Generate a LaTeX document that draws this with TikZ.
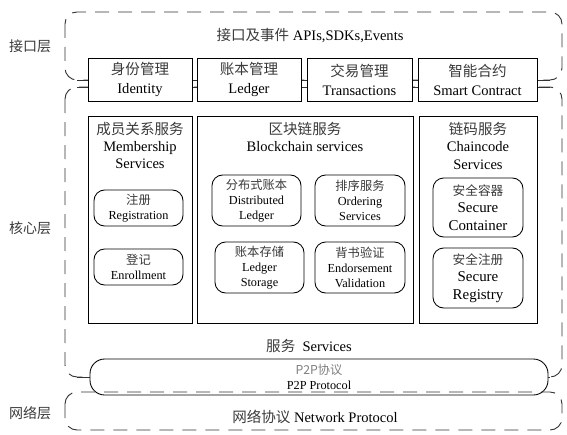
\documentclass[tikz,border=0pt]{standalone}
\usepackage{fontspec}
\setmainfont{Liberation Serif}
\newfontfamily\cjk[Color=3A3A3A]{Noto Sans CJK SC}
\newcommand\zhtext[1]{{\cjk #1}}
\usetikzlibrary{positioning}

\begin{document}
\begin{tikzpicture}[
  x=0.75pt, y=-0.75pt,
  layerbox/.style={draw=black!80, line width=0.7pt, dash pattern=on 10.5pt off 6.75pt, rounded corners=9pt},
  frameline/.style={draw=black!80, line width=0.7pt},
  box/.style={draw, line width=0.65pt, fill=white, inner sep=0pt, align=center},
  rbox/.style={box, rounded corners=8pt},
  big/.style={font=\fontsize{10.9}{14.25}\selectfont},
  title/.style={align=center, inner sep=0pt, font=\fontsize{10.9}{13.1}\selectfont},
  small/.style={font=\fontsize{9.2}{11.25}\selectfont},
  mid/.style={font=\fontsize{11.2}{13}\selectfont},
  lab/.style={font=\cjk\fontsize{10.5}{12}\selectfont}
]
\useasboundingbox (0,0) rectangle (567,435);

% layers
\draw[layerbox] (65,12) rectangle (562,80);
\draw[layerbox] (65,87) rectangle (562,377);
\draw[frameline] (77,80) -- (550,80);
\draw[frameline] (77,87) -- (550,87);
\draw[frameline] (77,377) -- (550,377);

\node[lab] (ifl) at (30,46) {接口层};
\node[lab] (cl) at (30,228) {核心层};
\node[lab] (nl) at (30,413) {网络层};

\node[title] (api) at (310,36) {\zhtext{接口及事件} APIs,SDKs,Events};

% interface boxes
\node[box, big, minimum width=78pt, minimum height=32.25pt] (ident) at (140,79.5) {\zhtext{身份管理}\\Identity};
\node[box, big, minimum width=78pt, minimum height=32.25pt] (ledger) at (249,79.5) {\zhtext{账本管理}\\Ledger};
\node[box, big, minimum width=78.75pt, minimum height=32.25pt] (trans) at (359.5,79.5) {\zhtext{交易管理}\\Transactions};
\node[box, big, minimum width=89.25pt, minimum height=32.25pt] (smart) at (477.5,79.5) {\zhtext{智能合约}\\Smart Contract};

% core services
\node[box, minimum width=78pt, minimum height=155.25pt] (member) at (140,219.5) {};
\node[box, minimum width=162pt, minimum height=155.25pt] (chain) at (305,219.5) {};
\node[box, minimum width=88.5pt, minimum height=155.25pt] (code) at (478,219.5) {};

\node[title, below=4.5pt of member.north] (membert) {\zhtext{成员关系服务}\\Membership\\Services};
\node[title, below=4.5pt of chain.north] (chaint) {\zhtext{区块链服务}\\Blockchain services};
\node[title, below=4.5pt of code.north] (codet) {\zhtext{链码服务}\\Chaincode\\Services};

\node[rbox, small, minimum width=66.75pt, minimum height=27pt] (reg) at (138.5,208) {\zhtext{注册}\\Registration};
\node[rbox, small, minimum width=66.75pt, minimum height=27pt] (enr) at (138.5,267) {\zhtext{登记}\\Enrollment};

\node[rbox, small, minimum width=66.75pt, minimum height=38.25pt] (dist) at (256.5,200.5) {\zhtext{分布式账本}\\Distributed\\Ledger};
\node[rbox, small, minimum width=67.5pt, minimum height=38.25pt] (order) at (360,200.5) {\zhtext{排序服务}\\Ordering\\Services};
\node[rbox, small, minimum width=66.75pt, minimum height=38.25pt] (store) at (259.5,267.5) {\zhtext{账本存储}\\Ledger\\Storage};
\node[rbox, small, minimum width=67.5pt, minimum height=38.25pt] (endo) at (360,267.5) {\zhtext{背书验证}\\Endorsement\\Validation};

\node[rbox, mid, minimum width=67.5pt, minimum height=44.25pt] (cont) at (478,207.5) {{\fontsize{9.5}{13}\selectfont\zhtext{安全容器}}\\Secure\\Container};
\node[rbox, mid, minimum width=67.5pt, minimum height=45pt] (sreg) at (478,278) {{\fontsize{9.5}{13}\selectfont\zhtext{安全注册}}\\Secure\\Registry};

\node[title] (svc) at (309,346) {\zhtext{服务}\ \ Services};

% p2p and network
\node[rbox, small, rounded corners=11pt, minimum width=343.5pt, minimum height=27pt] (p2p) at (319,377) {{\cjk\addfontfeatures{Color=808080}P2P协议}\\P2P Protocol};

\draw[layerbox] (65,392) rectangle (562,430);
\node[title] (net) at (315,417) {\zhtext{网络协议} Network Protocol};
\end{tikzpicture}
\end{document}
